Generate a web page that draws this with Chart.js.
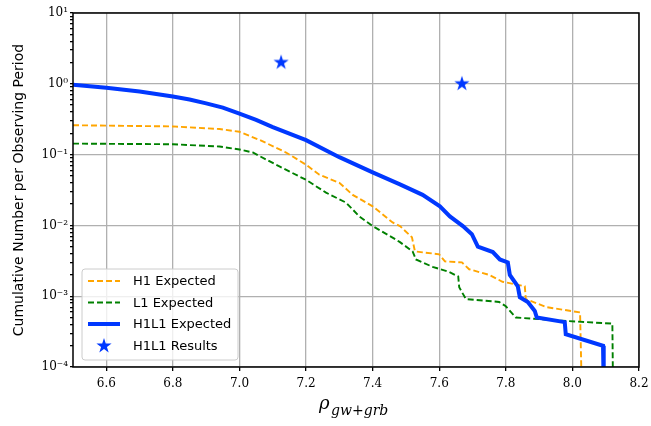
<!DOCTYPE html>
<html>
<head>
<meta charset="utf-8">
<script src="https://cdn.jsdelivr.net/npm/chart.js@4.4.0/dist/chart.umd.min.js"></script>
<style>
  html, body { margin: 0; padding: 0; background: #fff; }
</style>
</head>
<body>
<canvas id="chart" width="651" height="426"></canvas>
<script>
// valeurs
const h1X = [6.5, 6.8, 6.94, 7.0, 7.062, 7.14, 7.2, 7.24, 7.3, 7.34, 7.4, 7.46, 7.482, 7.518, 7.527, 7.6, 7.617, 7.668, 7.69, 7.75, 7.79, 7.857, 7.86, 7.923, 8.023, 8.028];
const h1Y = [0.26, 0.25, 0.23, 0.21, 0.16, 0.107, 0.072, 0.052, 0.04, 0.027, 0.0186, 0.011, 0.0098, 0.0068, 0.0043, 0.0039, 0.0031, 0.003, 0.0024, 0.002, 0.0016, 0.00138, 0.00091, 0.0007, 0.00059, 0.00005];

const l1X = [6.5, 6.8, 6.94, 7.0, 7.04, 7.12, 7.2, 7.26, 7.32, 7.36, 7.4, 7.47, 7.482, 7.52, 7.53, 7.58, 7.63, 7.657, 7.66, 7.68, 7.78, 7.8, 7.83, 7.97, 8.12, 8.122];
const l1Y = [0.143, 0.14, 0.13, 0.118, 0.107, 0.068, 0.044, 0.029, 0.021, 0.0134, 0.0098, 0.0063, 0.0058, 0.0043, 0.0033, 0.0026, 0.0022, 0.0019, 0.00134, 0.00091, 0.00083, 0.00072, 0.0005, 0.00045, 0.00041, 0.00005];

const h1l1X = [6.5, 6.6, 6.7, 6.8, 6.85, 6.9, 6.95, 7.0, 7.05, 7.1, 7.2, 7.3, 7.4, 7.482, 7.55, 7.602, 7.632, 7.671, 7.698, 7.716, 7.761, 7.782, 7.806, 7.812, 7.836, 7.842, 7.866, 7.887, 7.893, 7.977, 7.98, 8.092, 8.094];
const h1l1Y = [0.97, 0.88, 0.78, 0.66, 0.6, 0.53, 0.46, 0.38, 0.31, 0.245, 0.16, 0.092, 0.056, 0.038, 0.027, 0.0186, 0.0134, 0.0098, 0.0075, 0.005, 0.0042, 0.0033, 0.003, 0.002, 0.00138, 0.00097, 0.00083, 0.00062, 0.0005, 0.00043, 0.00029, 0.000199, 0.00005];

const resultsX = [7.125, 7.668];
const resultsY = [2.0, 1.0];

const seriesLabels = ["H1 Expected", "L1 Expected", "H1L1 Expected", "H1L1 Results"];

const xTickValues = [6.6, 6.8, 7.0, 7.2, 7.4, 7.6, 7.8, 8.0, 8.2];
const yTickValues = [1e-4, 1e-3, 1e-2, 1e-1, 1, 10];
const yTickLabels = ["10⁻⁴", "10⁻³", "10⁻²", "10⁻¹", "10⁰", "10¹"];

const blue = "#0038ff";
const gridColor = "#b0b0b0";
const tickFont = { family: "DejaVu Serif", size: 12 };

// étoile pleine (le pointStyle "star" de Chart.js n'est pas rempli)
function makeStar(r, color) {
  const c = document.createElement("canvas");
  const s = Math.ceil(r * 2 + 2);
  c.width = s;
  c.height = s;
  const g = c.getContext("2d");
  g.fillStyle = color;
  g.beginPath();
  for (let i = 0; i < 10; i++) {
    const rad = i % 2 === 0 ? r : r * 0.382;
    const ang = -Math.PI / 2 + (i * Math.PI) / 5;
    g.lineTo(s / 2 + rad * Math.cos(ang), s / 2 + rad * Math.sin(ang));
  }
  g.closePath();
  g.fill();
  return c;
}
const star = makeStar(8, blue);

const toPoints = (xs, ys) => xs.map((x, i) => ({ x: x, y: ys[i] }));

// graduations log : majeures + mineures 2..9
const yTicks = [];
yTickValues.forEach((p, i) => {
  if (i === yTickValues.length - 1) {
    yTicks.push({ value: p, major: true });
    return;
  }
  for (let m = 1; m <= 9; m++) yTicks.push({ value: m * p, major: m === 1 });
});

const extrasPlugin = {
  id: "extras",
  afterDraw(chart) {
    const { ctx, chartArea: a } = chart;
    ctx.save();

    // cadre complet façon matplotlib
    ctx.strokeStyle = "#000";
    ctx.lineWidth = 1.5;
    ctx.strokeRect(a.left, a.top, a.right - a.left, a.bottom - a.top);

    // titre axe y
    ctx.fillStyle = "#000";
    ctx.font = "14px 'DejaVu Sans'";
    ctx.textAlign = "center";
    ctx.textBaseline = "alphabetic";
    ctx.save();
    ctx.translate(23, (a.top + a.bottom) / 2);
    ctx.rotate(-Math.PI / 2);
    ctx.fillText("Cumulative Number per Observing Period", 0, 0);
    ctx.restore();

    // titre axe x : rho indice gw+grb
    ctx.textAlign = "left";
    ctx.font = "italic 18px 'DejaVu Serif'";
    ctx.fillText("ρ", 319, 409);
    ctx.font = "italic 14px 'DejaVu Serif'";
    ctx.fillText("gw+grb", 331, 415);

    // légende
    const lx = 82, ly = 269, lw = 156, lh = 91;
    ctx.beginPath();
    ctx.roundRect(lx, ly, lw, lh, 3);
    ctx.fillStyle = "rgba(255,255,255,0.8)";
    ctx.fill();
    ctx.strokeStyle = "#cccccc";
    ctx.lineWidth = 1;
    ctx.stroke();

    const rows = [281, 302.5, 324, 346];
    ctx.font = "13px 'DejaVu Sans'";
    ctx.textBaseline = "middle";
    chart.data.datasets.forEach((ds, i) => {
      const y = rows[i];
      if (ds.showLine === false) {
        ctx.drawImage(star, 104 - star.width / 2, y - star.height / 2);
      } else {
        ctx.beginPath();
        ctx.strokeStyle = ds.borderColor;
        ctx.lineWidth = ds.borderWidth;
        ctx.setLineDash(ds.borderDash || []);
        ctx.moveTo(88, y);
        ctx.lineTo(120, y);
        ctx.stroke();
        ctx.setLineDash([]);
      }
      ctx.fillStyle = "#000";
      ctx.fillText(ds.label, 133, y + 1);
    });

    ctx.restore();
  },
};

new Chart(document.getElementById("chart"), {
  type: "line",
  data: {
    datasets: [
      {
        label: seriesLabels[0],
        data: toPoints(h1X, h1Y),
        borderColor: "#ffa500",
        borderWidth: 1.9,
        borderDash: [6, 3],
        pointRadius: 0,
        tension: 0,
        clip: 0,
        order: 3,
      },
      {
        label: seriesLabels[1],
        data: toPoints(l1X, l1Y),
        borderColor: "#008000",
        borderWidth: 1.9,
        borderDash: [6, 3],
        pointRadius: 0,
        tension: 0,
        clip: 0,
        order: 2,
      },
      {
        label: seriesLabels[2],
        data: toPoints(h1l1X, h1l1Y),
        borderColor: blue,
        borderWidth: 4,
        pointRadius: 0,
        tension: 0,
        clip: 0,
        order: 1,
      },
      {
        label: seriesLabels[3],
        data: toPoints(resultsX, resultsY),
        showLine: false,
        pointStyle: star,
        pointRadius: 8,
        borderColor: blue,
        backgroundColor: blue,
        order: 0,
      },
    ],
  },
  options: {
    responsive: false,
    animation: false,
    layout: { padding: { top: 13, right: 12, left: 0, bottom: 0 } },
    scales: {
      x: {
        type: "linear",
        min: 6.5,
        max: 8.2,
        afterBuildTicks: (scale) => {
          scale.ticks = xTickValues.map((v) => ({ value: v }));
        },
        afterFit: (scale) => {
          scale.height = 59;
          scale.paddingLeft = 0;
          scale.paddingRight = 0;
        },
        ticks: {
          autoSkip: false,
          maxRotation: 0,
          padding: 6,
          color: "#000",
          font: tickFont,
          callback: (v) => Number(v).toFixed(1),
        },
        grid: { color: gridColor, lineWidth: 1.3, tickColor: "#000", tickLength: 4 },
        border: { display: false },
      },
      y: {
        type: "logarithmic",
        min: 1e-4,
        max: 10,
        afterBuildTicks: (scale) => {
          scale.ticks = yTicks.map((t) => ({ value: t.value, major: t.major }));
        },
        afterFit: (scale) => {
          scale.width = 73;
          scale.paddingTop = 0;
          scale.paddingBottom = 0;
        },
        ticks: {
          autoSkip: false,
          padding: 2,
          color: "#000",
          font: tickFont,
          callback: (value, index, ticks) => {
            if (!ticks[index].major) return "";
            const i = yTickValues.indexOf(value);
            return i >= 0 ? yTickLabels[i] : "";
          },
        },
        grid: {
          color: (ctx) => (ctx.tick && ctx.tick.major ? gridColor : "rgba(0,0,0,0)"),
          lineWidth: 1.3,
          tickColor: "#000",
          tickLength: 3,
        },
        border: { display: false },
      },
    },
    plugins: {
      legend: { display: false },
      tooltip: { enabled: false },
    },
  },
  plugins: [extrasPlugin],
});
</script>
</body>
</html>
